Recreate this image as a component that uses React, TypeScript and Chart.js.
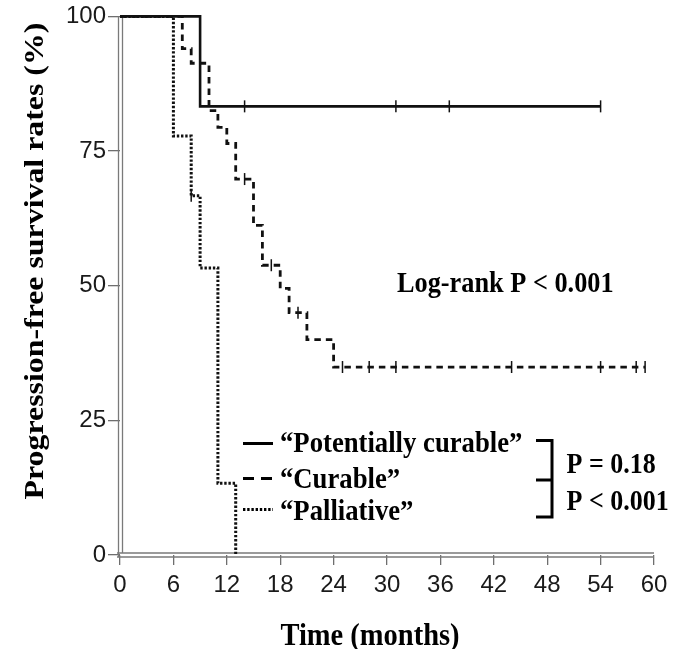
import React, { useEffect, useRef } from 'react';
import { Chart, registerables } from 'chart.js';

Chart.register(...registerables);

// ---- data ----
const xTickValues = [0, 6, 12, 18, 24, 30, 36, 42, 48, 54, 60];
const yTickValues = [0, 25, 50, 75, 100];

const potTimes = [0, 9];
const potSurv = [100, 83.3];
const potEnd = 54;
const potCensor = [14, 31, 37, 54];

const curTimes = [0, 7, 8, 10, 11, 12, 13, 15, 16, 18, 19, 21, 24];
const curSurv = [100, 94.0, 91.3, 82.5, 79.4, 76.4, 69.8, 61.2, 53.8, 49.5, 45.0, 40.0, 34.9];
const curEnd = 59;
const curCensor = [14, 17, 20, 25, 28, 31, 44, 54, 58, 59];

const palTimes = [0, 6, 8, 9, 11, 13];
const palSurv = [100, 77.8, 66.7, 53.3, 13.3, 0];
const palEnd = 13;
const palCensor = [8];

const legendLabels = ['\u201CPotentially curable\u201D', '\u201CCurable\u201D', '\u201CPalliative\u201D'];
const pairLabels = ['P = 0.18', 'P < 0.001'];
const logRankLabel = 'Log-rank P < 0.001';
const xTitle = 'Time (months)';
const yTitle = 'Progression-free survival rates (%)';

// ---- helpers ----
function stepPoints(times: number[], surv: number[], end: number) {
  const pts = times.map((t, i) => ({ x: t, y: surv[i] }));
  if (end > times[times.length - 1]) pts.push({ x: end, y: surv[surv.length - 1] });
  return pts;
}
function levelAt(times: number[], surv: number[], t: number) {
  let v = surv[0];
  for (let i = 0; i < times.length; i++) if (times[i] <= t) v = surv[i];
  return v;
}
function censorPoints(times: number[], surv: number[], cens: number[]) {
  return cens.map((t) => ({ x: t, y: levelAt(times, surv, t) }));
}

const SERIF = '"Liberation Serif", "Times New Roman", Times, serif';

function drawText(
  ctx: CanvasRenderingContext2D, text: string, x: number, y: number,
  size: number, sy: number, align: CanvasTextAlign = 'left', rotate = false
) {
  ctx.save();
  ctx.translate(x, y);
  ctx.scale(1, sy);
  if (rotate) ctx.rotate(-Math.PI / 2);
  ctx.font = `bold ${size}px ${SERIF}`;
  ctx.textAlign = align;
  ctx.textBaseline = 'alphabetic';
  ctx.fillStyle = '#000';
  ctx.fillText(text, 0, 0);
  ctx.restore();
}

const decorPlugin = {
  id: 'decor',
  beforeDatasetsDraw(chart: any) {
    const ctx: CanvasRenderingContext2D = chart.ctx;
    const { left, right, top, bottom } = chart.chartArea;
    ctx.save();
    ctx.strokeStyle = '#7a7a7a';
    ctx.lineWidth = 1.3;
    ctx.beginPath();
    ctx.moveTo(left - 1.5, top);
    ctx.lineTo(left - 1.5, bottom + 2);
    ctx.moveTo(left + 2.5, top);
    ctx.lineTo(left + 2.5, bottom - 2);
    ctx.moveTo(left - 3, bottom - 2);
    ctx.lineTo(right, bottom - 2);
    ctx.moveTo(left - 3, bottom + 2);
    ctx.lineTo(right, bottom + 2);
    ctx.stroke();
    ctx.restore();
  },
  afterDraw(chart: any) {
    const ctx: CanvasRenderingContext2D = chart.ctx;
    // axis titles
    drawText(ctx, yTitle, 42.5, 261, 27, 1.18, 'center', true);
    drawText(ctx, xTitle, 370, 645, 28.5, 1.12, 'center');
    // log-rank
    drawText(ctx, logRankLabel, 397, 292, 26.3, 1.15);
    // legend
    const ys = [452, 488, 520];
    const lineYs = [443.5, 478.5, 509.5];
    const dashes = [[], [11, 7], [2.4, 1.8]];
    const widths = [3, 3, 3];
    for (let i = 0; i < 3; i++) {
      ctx.save();
      ctx.strokeStyle = '#000';
      ctx.lineWidth = widths[i];
      ctx.setLineDash(dashes[i]);
      ctx.beginPath();
      ctx.moveTo(243, lineYs[i]);
      ctx.lineTo(273, lineYs[i]);
      ctx.stroke();
      ctx.restore();
      drawText(ctx, legendLabels[i], 280, ys[i], 26.7, 1.08);
    }
    // bracket
    ctx.save();
    ctx.strokeStyle = '#000';
    ctx.lineWidth = 3;
    ctx.beginPath();
    ctx.moveTo(536, 440.5);
    ctx.lineTo(552, 440.5);
    ctx.lineTo(552, 517);
    ctx.lineTo(536, 517);
    ctx.moveTo(536, 480);
    ctx.lineTo(552, 480);
    ctx.stroke();
    ctx.restore();
    drawText(ctx, pairLabels[0], 566.5, 473, 26, 1.1);
    drawText(ctx, pairLabels[1], 566.5, 510, 26, 1.1);
  },
};

export default function App() {
  const ref = useRef<HTMLCanvasElement>(null);
  useEffect(() => {
    document.body.style.margin = '0';
    const canvas = ref.current!;
    const lineBase = {
      type: 'line' as const,
      stepped: 'before' as const,
      fill: false,
      pointRadius: 0,
      borderColor: '#111',
      borderCapStyle: 'butt' as const,
      clip: false as any,
    };
    const censorBase = {
      type: 'scatter' as const,
      showLine: false,
      pointStyle: 'line' as const,
      rotation: 90,
      pointRadius: 6,
      borderColor: '#111',
      borderWidth: 1.5,
      clip: false as any,
    };
    const chart = new Chart(canvas, {
      type: 'line',
      data: {
        datasets: [
          { ...lineBase, label: legendLabels[0], data: stepPoints(potTimes, potSurv, potEnd), borderWidth: 2.6 },
          { ...lineBase, label: legendLabels[1], data: stepPoints(curTimes, curSurv, curEnd), borderWidth: 2.8, borderDash: [6.5, 5] },
          { ...lineBase, label: legendLabels[2], data: stepPoints(palTimes, palSurv, palEnd), borderWidth: 3, borderDash: [2.4, 1.8] },
          { ...censorBase, data: censorPoints(potTimes, potSurv, potCensor) },
          { ...censorBase, data: censorPoints(curTimes, curSurv, curCensor) },
          { ...censorBase, data: censorPoints(palTimes, palSurv, palCensor) },
        ] as any,
      },
      options: {
        responsive: false,
        animation: false,
        devicePixelRatio: 1,
        layout: { padding: { left: 0, top: 16, right: 23, bottom: 0 } },
        plugins: { legend: { display: false }, tooltip: { enabled: false }, title: { display: false } },
        scales: {
          x: {
            type: 'linear',
            min: 0,
            max: 60,
            afterBuildTicks: (s: any) => { s.ticks = xTickValues.map((v) => ({ value: v })); },
            afterFit: (s: any) => { s.height = 94; },
            grid: { drawOnChartArea: false, drawTicks: true, tickLength: 10, color: '#6e6e6e', lineWidth: 1.3 },
            border: { display: false },
            ticks: { autoSkip: false, maxRotation: 0, padding: 6, color: '#1a1a1a', font: { family: '"Liberation Sans", Arial, sans-serif', size: 24 } },
          },
          y: {
            type: 'linear',
            min: 0,
            max: 100,
            afterBuildTicks: (s: any) => { s.ticks = yTickValues.map((v) => ({ value: v })); },
            afterFit: (s: any) => { s.width = 120; },
            grid: { drawOnChartArea: false, drawTicks: true, tickLength: 12, color: '#6e6e6e', lineWidth: 1.3 },
            border: { display: false },
            ticks: { autoSkip: false, padding: 2, color: '#1a1a1a', font: { family: '"Liberation Sans", Arial, sans-serif', size: 24 } },
          },
        },
      } as any,
      plugins: [decorPlugin],
    });
    return () => chart.destroy();
  }, []);
  return (
    <div style={{ width: 677, height: 649 }}>
      <canvas ref={ref} width={677} height={649} style={{ display: 'block' }} />
    </div>
  );
}
